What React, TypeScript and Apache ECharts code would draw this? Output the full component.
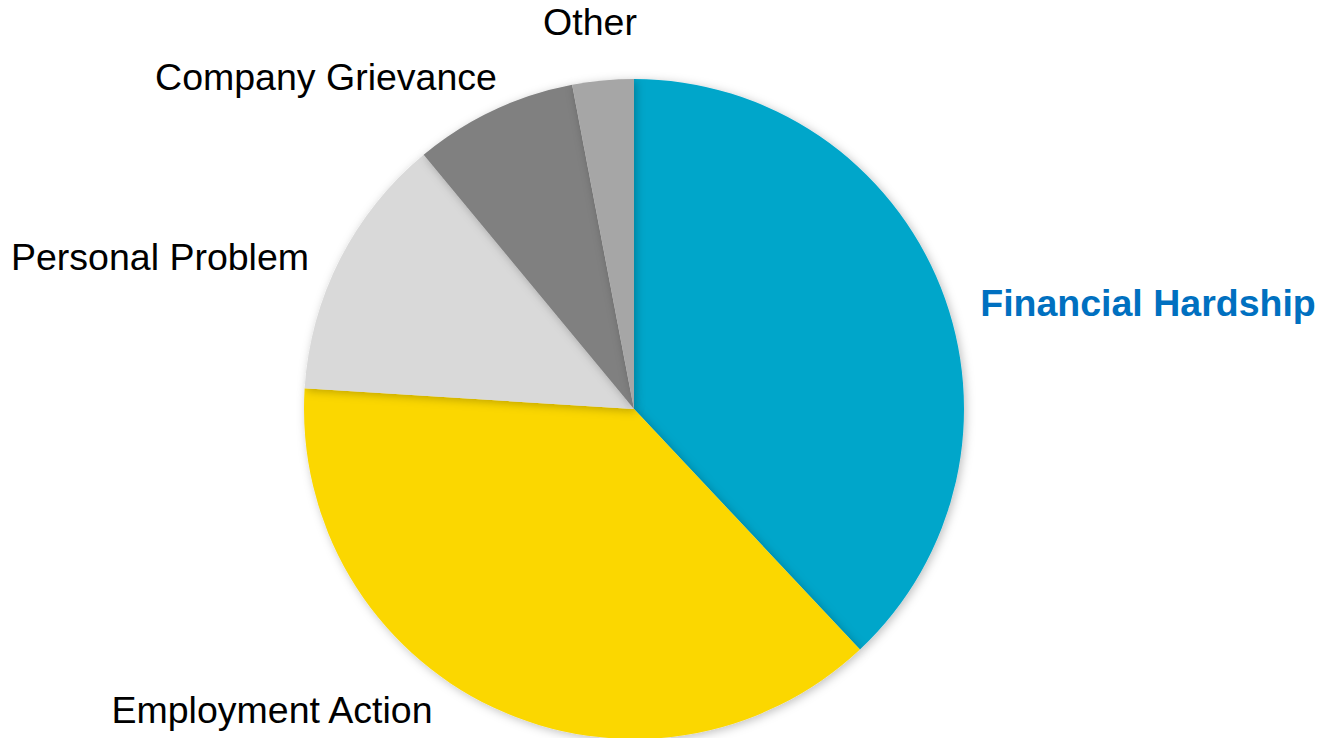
import React, { useEffect, useRef } from "react";
import * as echarts from "echarts";

const categories = ["Financial Hardship", "Employment Action", "Personal Problem", "Company Grievance", "Other"];
const values = [38, 38, 13, 8, 3];
const colors = ["#00A6CA", "#FBD700", "#D9D9D9", "#808080", "#A6A6A6"];
const labelColors = ["#0070C0", "#000000", "#000000", "#000000", "#000000"];
const labelWeights = ["bold", "normal", "normal", "normal", "normal"];
const labelPositions = [
  [1148, 303],
  [272, 710],
  [160, 257],
  [326, 77],
  [590, 22],
];

export default function App() {
  const ref = useRef<HTMLDivElement>(null);
  useEffect(() => {
    if (!ref.current) return;
    const chart = echarts.init(ref.current, null, { renderer: "svg" });
    chart.setOption({
      animation: false,
      backgroundColor: "#ffffff",
      series: [
        {
          type: "pie",
          center: [634, 409],
          radius: [0, 330],
          startAngle: 90,
          clockwise: true,
          data: categories.map((name, i) => ({
            name,
            value: values[i],
            itemStyle: { color: colors[i] },
            label: { color: labelColors[i], fontWeight: labelWeights[i] },
          })),
          itemStyle: {
            borderWidth: 0,
            shadowBlur: 10,
            shadowColor: "rgba(0,0,0,0.25)",
            shadowOffsetX: 2,
            shadowOffsetY: 2,
          },
          label: {
            show: true,
            formatter: "{b}",
            fontFamily: "Liberation Sans",
            fontSize: 37.5,
            overflow: "none",
            width: 600,
          },
          labelLine: { show: false },
          labelLayout: (params: any) => {
            const p = labelPositions[params.dataIndex];
            return { x: p[0], y: p[1], align: "center", verticalAlign: "middle", hideOverlap: false };
          },
        },
      ],
    });
    return () => chart.dispose();
  }, []);
  return (
    <div
      ref={ref}
      style={{ position: "fixed", left: 0, top: 0, width: 1317, height: 738 }}
    />
  );
}
